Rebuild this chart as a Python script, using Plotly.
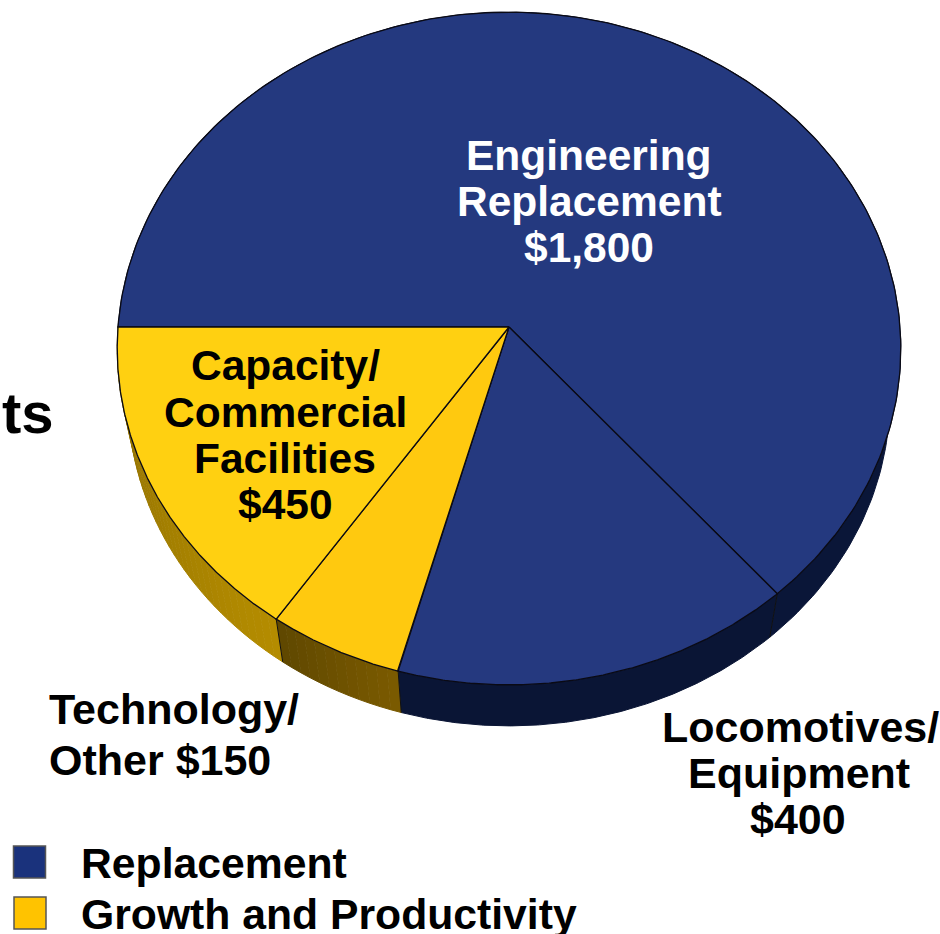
import numpy as np
import plotly.graph_objects as go

# ---- data ----
categories = ["Engineering Replacement", "Locomotives/Equipment", "Technology/Other", "Capacity/Commercial Facilities"]
dollars = [1800, 400, 150, 450]
# the perspective drawing does not give exact shares: apparent slice sizes on the disc
apparent_values = [1783, 437, 147, 433]
legend_labels = ["Replacement", "Growth and Productivity"]

top_colors = ["#24397F", "#25397F", "#FFC90F", "#FFD011"]
wall_left = ["#0A1638", "#0A1535", "#7A5A00", "#B48C00"]
wall_right = ["#0A1638", "#0A1535", "#604800", "#8E6E00"]
legend_colors = ["#1A327C", "#FFC300"]

# ---- disc geometry (pixels) ----
W, H = 940, 934
AX, AY = 509, 327      # apex
RX, RY, K = 391, 335, 0.064   # radii and perspective strength
START = 270.0          # starting bearing, clockwise from top
WALL_SCALE, WALL_DROP = 0.972, 51


def project(theta_deg, r=1.0):
    t = np.radians(theta_deg)
    x, y = r * np.sin(t), -r * np.cos(t)
    d = 1 - K * y
    return AX + RX * x / d, AY + RY * y / d


def wall(px, py):
    return AX + WALL_SCALE * (px - AX), AY + WALL_SCALE * (py - AY) + WALL_DROP


def mix(c1, c2, f):
    a = [int(c1[i:i + 2], 16) for i in (1, 3, 5)]
    b = [int(c2[i:i + 2], 16) for i in (1, 3, 5)]
    return "rgb(%d,%d,%d)" % tuple(round(p + (q - p) * f) for p, q in zip(a, b))


fig = go.Figure()
total = sum(apparent_values)
sweeps = [v / total * 360 for v in apparent_values]
edges = START + np.concatenate([[0], np.cumsum(sweeps)])

# walls
for i in range(4):
    a0, a1 = edges[i], edges[i + 1]
    n = 1 if wall_left[i] == wall_right[i] else max(2, int((a1 - a0) / 1.5))
    steps = np.linspace(a0, a1, n + 1)
    for j in range(n):
        t = np.linspace(steps[j], steps[j + 1], 4 if n > 1 else 200)
        px, py = project(t)
        qx, qy = wall(px, py)
        c = mix(wall_left[i], wall_right[i], j / max(n - 1, 1))
        fig.add_trace(go.Scatter(
            x=np.concatenate([px, qx[::-1]]), y=np.concatenate([py, qy[::-1]]),
            mode="lines", fill="toself", fillcolor=c,
            line=dict(color=c, width=1), hoverinfo="skip", showlegend=False))

# seams on the wall
for a in edges[1:-1]:
    p = project(a)
    q = wall(*p)
    fig.add_trace(go.Scatter(x=[p[0], q[0]], y=[p[1], q[1]], mode="lines",
                             line=dict(color="#111111", width=1),
                             hoverinfo="skip", showlegend=False))

# top face slices
for i, cat in enumerate(categories):
    t = np.linspace(edges[i], edges[i + 1], 240)
    rx, ry = project(t)
    fig.add_trace(go.Scatter(
        x=np.concatenate([[AX], rx, [AX]]), y=np.concatenate([[AY], ry, [AY]]),
        mode="lines", fill="toself", fillcolor=top_colors[i],
        line=dict(color="#0A0A14", width=1.3),
        name=cat, text=f"{cat}: ${dollars[i]:,}", hoverinfo="text", showlegend=False))

# legend
for i, lab in enumerate(legend_labels):
    fig.add_trace(go.Scatter(
        x=[29.5 + 0.5 * i], y=[862 + 51 * i], mode="markers",
        marker=dict(symbol="square", size=32, color=legend_colors[i],
                    line=dict(color="#555555", width=1.5)),
        hoverinfo="skip", showlegend=False))

# text lines: (text, x, y, anchor, colour, size)
labels = [
    ("Engineering", 589, 155, "center", "white", 42.5),
    ("Replacement", 589, 201, "center", "white", 42.5),
    ("$1,800", 589, 247, "center", "white", 42.5),
    ("Capacity/", 285, 365, "center", "black", 42.5),
    ("Commercial", 285, 412, "center", "black", 42.5),
    ("Facilities", 285, 458, "center", "black", 42.5),
    ("$450", 285, 504, "center", "black", 42.5),
    ("Technology/", 48, 709, "left", "black", 43),
    ("Other $150", 48, 760, "left", "black", 43),
    ("Locomotives/", 800, 727, "center", "black", 43),
    ("Equipment", 799, 773, "center", "black", 43),
    ("$400", 798, 819, "center", "black", 43),
    (legend_labels[0], 80, 863, "left", "black", 42.7),
    (legend_labels[1], 80, 914, "left", "black", 42.7),
    ("ts", 1, 412, "left", "black", 58),
]
annotations = [dict(text=s, x=x, y=y, xanchor=a, yanchor="middle", xref="x", yref="y",
                    showarrow=False, borderpad=0,
                    font=dict(family="Liberation Sans", size=z, color=c, weight="bold"))
               for s, x, y, a, c, z in labels]

fig.update_layout(
    width=W, height=H, margin=dict(l=0, r=0, t=0, b=0),
    paper_bgcolor="white", plot_bgcolor="white", showlegend=False,
    xaxis=dict(range=[0, W], visible=False, fixedrange=True),
    yaxis=dict(range=[H, 0], visible=False, fixedrange=True),
    annotations=annotations,
)
fig.write_html("out.html", config={"displayModeBar": False},
               post_script="document.body.style.margin='0';document.documentElement.style.overflow='hidden';")
